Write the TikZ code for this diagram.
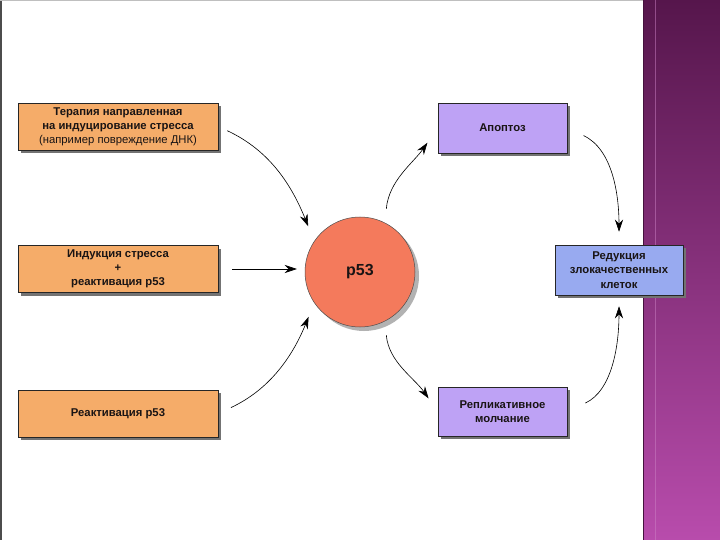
\documentclass[tikz,border=0pt]{standalone}
\usepackage{fontspec}
\setmainfont{Liberation Sans}
\usetikzlibrary{arrows.meta,shadows,positioning}
\definecolor{BoxOrange}{RGB}{245,172,105}
\definecolor{BoxLilac}{RGB}{190,162,245}
\definecolor{BoxBlue}{RGB}{152,170,240}
\definecolor{CircRed}{RGB}{244,122,92}
\definecolor{BandTop}{RGB}{86,22,76}
\definecolor{BandBot}{RGB}{184,76,172}
\definecolor{InkDark}{RGB}{25,20,20}

\begin{document}
\begin{tikzpicture}[x=1pt,y=1pt,>={Stealth[length=12pt,width=8pt]},
    box/.style={draw=black!85,line width=0.5pt,align=center,text=InkDark,
      font=\fontsize{11.3}{14.2}\selectfont\bfseries,
      drop shadow={shadow xshift=3pt,shadow yshift=-3pt,fill=black!55,opacity=1}},
    leftbox/.style={box,fill=BoxOrange,minimum width=200pt,minimum height=47pt},
    rightbox/.style={box,fill=BoxLilac,minimum width=129pt,minimum height=50pt},
    link/.style={->,line width=0.6pt,black}]
  % page and purple band
  \useasboundingbox (0,0) rectangle (720,-540);
  \fill[white] (0,0) rectangle (720,-540);
  \draw[black!70,line width=1.5pt] (0.75,0)--(0.75,-540);
  \draw[black!25] (0,-0.5)--(643,-0.5);
  \shade[top color=BandTop,bottom color=BandBot] (643,0) rectangle (720,-540);
  \draw[BandTop!80!black,line width=0.8pt] (643,0)--(643,-540);
  \draw[BandBot!70!white,opacity=0.5,line width=0.6pt] (655,0)--(655,-540);

  % left column
  \node[leftbox] (terapia) at (118,-126.5)
    {Терапия направленная\\на индуцирование стресса\\{\mdseries(например повреждение ДНК)}};
  \node[leftbox] (indukcia) at (118,-269) {Индукция стресса\\+\\реактивация p53};
  \node[leftbox] (reakt) at (118,-413.5) {Реактивация p53};

  % centre
  \node[circle,draw=black!70,line width=0.5pt,fill=CircRed,minimum size=110pt,
    font=\fontsize{16}{19}\selectfont\bfseries,text=InkDark,
    drop shadow={shadow xshift=4pt,shadow yshift=-4pt,fill=black!30,opacity=1}]
    (p53) at (360,-272) {p53};

  % right side
  \node[rightbox] (apopt) at (502.5,-128) {Апоптоз};
  \node[rightbox,fill=BoxBlue,minimum width=128pt] (redukc) at (619,-270)
    {Редукция\\злокачественных\\клеток};
  \node[rightbox,minimum height=49pt] (replik) at (502.5,-411.5)
    {Репликативное\\молчание};

  % arrows
  \draw[link,shorten <=10pt,shorten >=16pt] (terapia.east) to[out=-25,in=112] (p53.146);
  \draw[link,shorten <=14pt,shorten >=8pt] (indukcia.east) -- (indukcia.east -| p53.west);
  \draw[link,shorten <=14pt,shorten >=15pt] (reakt.east) to[out=25,in=-112] (p53.214);
  \draw[link,shorten <=14pt,shorten >=18pt] (p53.63) to[out=85,in=-125] (apopt.west);
  \draw[link,shorten <=14pt,shorten >=16pt] (p53.-63) to[out=-85,in=125] (replik.west);
  \draw[link,shorten <=18pt,shorten >=13pt] (apopt.east) to[out=-25,in=90] (redukc.north);
  \draw[link,shorten <=20pt,shorten >=11pt] (replik.east) to[out=25,in=-90] (redukc.south);
\end{tikzpicture}
\end{document}
